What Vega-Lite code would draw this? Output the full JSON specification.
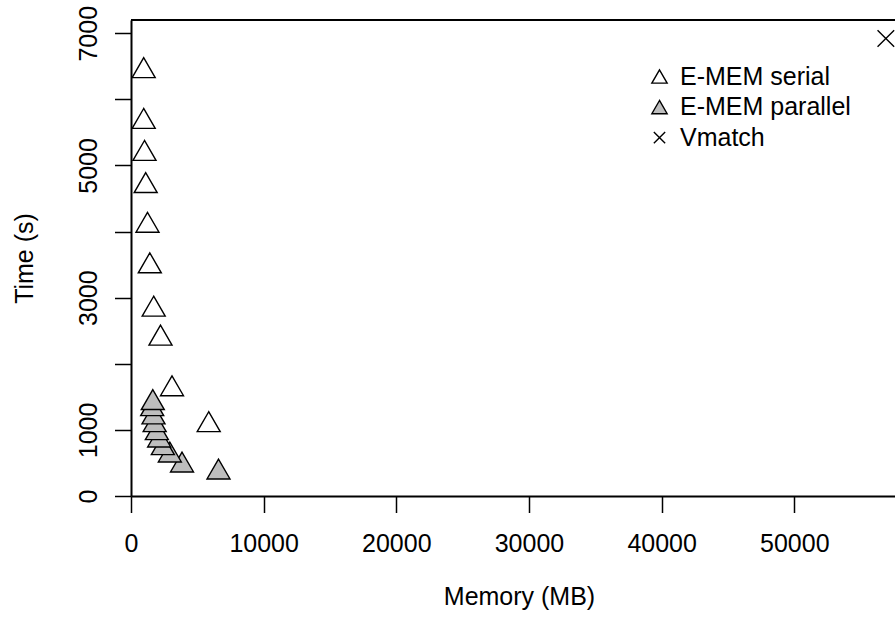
{
  "$schema": "https://vega.github.io/schema/vega-lite/v6.json",
  "width": 764,
  "height": 476,
  "autosize": {"type": "none"},
  "padding": {"left": 131, "top": 20, "right": 0, "bottom": 126},
  "background": "white",
  "config": {
    "view": {"stroke": null},
    "font": "Liberation Sans",
    "axis": {
      "grid": false,
      "domainColor": "black",
      "domainWidth": 2,
      "tickColor": "black",
      "tickWidth": 1.5,
      "tickSize": 16.5,
      "labelColor": "black",
      "labelFont": "Liberation Sans",
      "labelFontSize": 25,
      "titleFont": "Liberation Sans",
      "titleFontSize": 25,
      "titleFontWeight": "normal",
      "titleColor": "black",
      "labelOverlap": false,
      "labelFlush": false,
      "labelBound": false
    }
  },
  "datasets": {
    "runs": [
      {"method": "E-MEM serial", "memory_mb": 957, "time_s": 6426},
      {"method": "E-MEM serial", "memory_mb": 957, "time_s": 5658},
      {"method": "E-MEM serial", "memory_mb": 1018, "time_s": 5174},
      {"method": "E-MEM serial", "memory_mb": 1108, "time_s": 4688},
      {"method": "E-MEM serial", "memory_mb": 1244, "time_s": 4088},
      {"method": "E-MEM serial", "memory_mb": 1417, "time_s": 3474},
      {"method": "E-MEM serial", "memory_mb": 1711, "time_s": 2818},
      {"method": "E-MEM serial", "memory_mb": 2224, "time_s": 2380},
      {"method": "E-MEM serial", "memory_mb": 3091, "time_s": 1614},
      {"method": "E-MEM serial", "memory_mb": 5858, "time_s": 1071},
      {"method": "E-MEM parallel", "memory_mb": 6596, "time_s": 355},
      {"method": "E-MEM parallel", "memory_mb": 3845, "time_s": 461},
      {"method": "E-MEM parallel", "memory_mb": 2927, "time_s": 612},
      {"method": "E-MEM parallel", "memory_mb": 2400, "time_s": 723},
      {"method": "E-MEM parallel", "memory_mb": 2123, "time_s": 839},
      {"method": "E-MEM parallel", "memory_mb": 1948, "time_s": 950},
      {"method": "E-MEM parallel", "memory_mb": 1784, "time_s": 1071},
      {"method": "E-MEM parallel", "memory_mb": 1696, "time_s": 1188},
      {"method": "E-MEM parallel", "memory_mb": 1598, "time_s": 1314},
      {"method": "E-MEM parallel", "memory_mb": 1643, "time_s": 1405},
      {"method": "Vmatch", "memory_mb": 56900, "time_s": 6920}
    ]
  },
  "layer": [
    {
      "data": {"name": "runs"},
      "transform": [{"filter": "datum.method !== 'Vmatch'"}],
      "mark": {"type": "point", "filled": true, "stroke": "black", "strokeWidth": 1.4, "opacity": 1, "size": 529, "yOffset": -3.5},
      "encoding": {
        "x": {
          "field": "memory_mb", "type": "quantitative",
          "scale": {"domain": [0, 57590], "nice": false, "zero": false},
          "axis": {
            "values": [0, 10000, 20000, 30000, 40000, 50000],
            "format": "d",
            "title": "Memory (MB)",
            "labelPadding": 19,
            "titleX": 388,
            "titleY": 108,
            "titleBaseline": "alphabetic",
            "titleAlign": "center"
          }
        },
        "y": {
          "field": "time_s", "type": "quantitative",
          "scale": {"domain": [0, 7200], "nice": false, "zero": false},
          "axis": {
            "values": [0, 1000, 2000, 3000, 4000, 5000, 6000, 7000],
            "format": "d",
            "labelExpr": "datum.value == 0 || datum.value % 2000 == 1000 ? datum.label : ''",
            "labelAngle": 270,
            "labelAlign": "center",
            "labelBaseline": "alphabetic",
            "labelPadding": 18,
            "title": "Time (s)",
            "titleAngle": 270,
            "titleX": -99,
            "titleY": 238,
            "titleBaseline": "alphabetic",
            "titleAlign": "center"
          }
        },
        "shape": {
          "field": "method", "type": "nominal",
          "scale": {"domain": ["E-MEM serial", "E-MEM parallel", "Vmatch"], "range": ["triangle-up", "triangle-up", "M-1,-1L1,1M-1,1L1,-1"]},
          "legend": {
            "title": null, "orient": "none", "legendX": 516, "legendY": 44,
            "symbolSize": 234, "symbolStrokeColor": "black", "symbolStrokeWidth": 1.4, "symbolOpacity": 1,
            "labelFont": "Liberation Sans", "labelFontSize": 25, "labelColor": "black", "labelLimit": 0,
            "labelOffset": 8, "rowPadding": 4.6, "padding": 0,
            "encode": {"symbols": {"update": {"size": {"signal": "datum.value === 'Vmatch' ? 128 : 234"}}}}
          }
        },
        "fill": {
          "field": "method", "type": "nominal",
          "scale": {"domain": ["E-MEM serial", "E-MEM parallel", "Vmatch"], "range": ["white", "#bebebe", "transparent"]},
          "legend": {
            "title": null, "orient": "none", "legendX": 516, "legendY": 44,
            "symbolSize": 234, "symbolStrokeColor": "black", "symbolStrokeWidth": 1.4, "symbolOpacity": 1,
            "labelFont": "Liberation Sans", "labelFontSize": 25, "labelColor": "black", "labelLimit": 0,
            "labelOffset": 8, "rowPadding": 4.6, "padding": 0,
            "encode": {"symbols": {"update": {"size": {"signal": "datum.value === 'Vmatch' ? 128 : 234"}}}}
          }
        }
      }
    },
    {
      "data": {"name": "runs"},
      "transform": [{"filter": "datum.method === 'Vmatch'"}],
      "mark": {"type": "point", "filled": true, "stroke": "black", "strokeWidth": 1.4, "opacity": 1, "size": 276},
      "encoding": {
        "x": {"field": "memory_mb", "type": "quantitative"},
        "y": {"field": "time_s", "type": "quantitative"},
        "shape": {"field": "method", "type": "nominal"},
        "fill": {"field": "method", "type": "nominal"}
      }
    },
    {
      "data": {"values": [{}]},
      "mark": {"type": "rule", "color": "black", "strokeWidth": 2},
      "encoding": {"y": {"datum": 7200, "type": "quantitative"}}
    }
  ]
}
